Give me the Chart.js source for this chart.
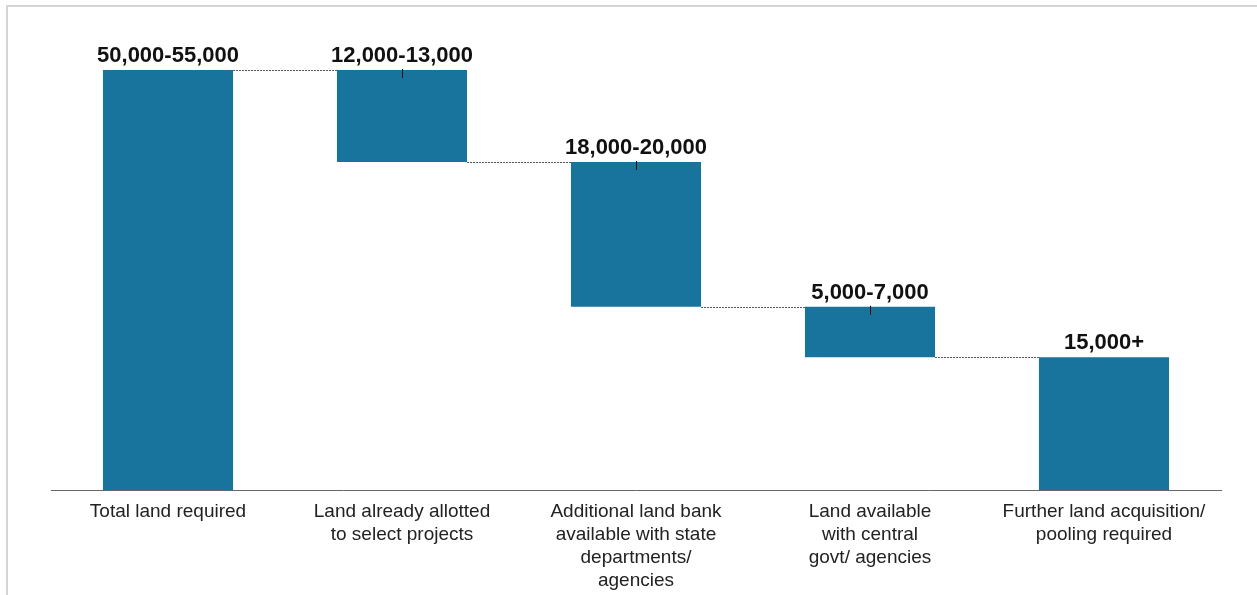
<!DOCTYPE html>
<html>
<head>
<meta charset="utf-8">
<script src="https://cdn.jsdelivr.net/npm/chart.js@4/dist/chart.umd.min.js"></script>
<style>
    html, body { margin: 0; padding: 0; background: #fff; overflow: hidden; }
    #frame { position: absolute; left: 6px; top: 5px; width: 1300px; height: 700px; border: 2px solid #d5d5d5; }
    #chart { position: absolute; left: 0; top: 0; }
</style>
</head>
<body>
<div id="frame"></div>
<canvas id="chart" width="1257" height="595"></canvas>
<script>
;(function (window) {
    'use strict';

    // land in '000 acres
    var categories = [
        ['Total land required'],
        ['Land already allotted', 'to select projects'],
        ['Additional land bank', 'available with state', 'departments/', 'agencies'],
        ['Land available', 'with central', 'govt/ agencies'],
        ['Further land acquisition/', 'pooling required']
    ];
    var rangeLabels = ['50,000-55,000', '12,000-13,000', '18,000-20,000', '5,000-7,000', '15,000+'];
    var barLow = [0, 41, 22.9, 16.6, 0];
    var barHigh = [52.5, 52.5, 41, 22.9, 16.6];
    var tickedBars = [1, 2, 3];

    var barColor = '#18739d';

    var ranges = barLow.map(function (low, i) {
        return [low, barHigh[i]];
    });

    /**
     * Range labels, connectors and small marks on top of the bars.
     */
    var waterfallExtras = {
        id: 'waterfallExtras',
        afterDatasetsDraw: function (chart) {
            var ctx = chart.ctx;
            var bars = chart.getDatasetMeta(0).data;

            ctx.save();

            // dotted connectors between the steps
            ctx.strokeStyle = '#555';
            ctx.lineWidth = 1;
            ctx.setLineDash([2, 1]);
            for (var i = 0; i < bars.length - 1; i++) {
                var a = bars[i], b = bars[i + 1];
                var y = Math.round(b.y) + 0.5;
                ctx.beginPath();
                ctx.moveTo(a.x + a.width / 2, y);
                ctx.lineTo(b.x - b.width / 2, y);
                ctx.stroke();
            }
            ctx.setLineDash([]);

            // short marks at the top middle of the middle bars
            ctx.strokeStyle = '#111';
            tickedBars.forEach(function (k) {
                var bar = bars[k];
                var x = Math.round(bar.x) + 0.5;
                ctx.beginPath();
                ctx.moveTo(x, bar.y - 1);
                ctx.lineTo(x, bar.y + 8);
                ctx.stroke();
            });

            // value ranges above each bar
            ctx.fillStyle = '#111';
            ctx.font = 'bold 22px "Liberation Sans", Arial, sans-serif';
            ctx.textAlign = 'center';
            ctx.textBaseline = 'alphabetic';
            bars.forEach(function (bar, k) {
                ctx.fillText(rangeLabels[k], bar.x, bar.y - 8);
            });

            ctx.restore();
        }
    };

    new Chart(document.getElementById('chart'), {
        type: 'bar',
        data: {
            labels: categories,
            datasets: [{
                data: ranges,
                backgroundColor: barColor,
                borderWidth: 0,
                barPercentage: 0.556,
                categoryPercentage: 1
            }]
        },
        options: {
            responsive: false,
            animation: false,
            devicePixelRatio: 1,
            layout: {
                padding: {left: 51, right: 36, top: 30, bottom: 0}
            },
            plugins: {
                legend: {display: false},
                tooltip: {enabled: false}
            },
            scales: {
                x: {
                    grid: {display: false, drawTicks: false},
                    border: {display: true, color: '#666', width: 1},
                    ticks: {
                        autoSkip: false,
                        maxRotation: 0,
                        padding: 10,
                        color: '#222',
                        font: {family: '"Liberation Sans", Arial, sans-serif', size: 19, lineHeight: 1.21}
                    },
                    afterFit: function (scale) {
                        scale.height = 105;
                    }
                },
                y: {
                    display: false,
                    min: 0,
                    max: 57.5
                }
            }
        },
        plugins: [waterfallExtras]
    });

})(window);
</script>
</body>
</html>
